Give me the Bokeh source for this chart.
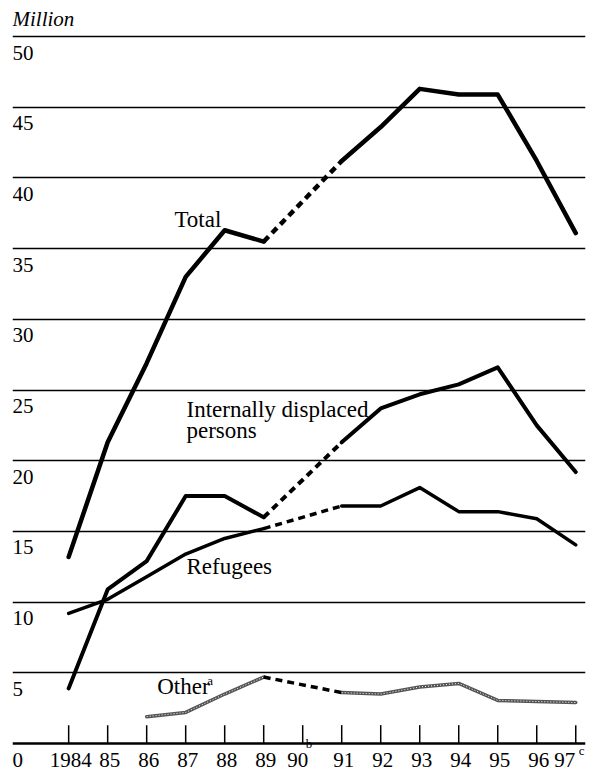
import math
from bokeh.plotting import figure
from bokeh.models import Range1d, Grid, FixedTicker, Span
from bokeh.core.properties import value
from bokeh.embed import file_html
from bokeh.resources import INLINE

# ---- data (million persons) ----
years = [1984, 1985, 1986, 1987, 1988, 1989, 1990, 1991, 1992, 1993, 1994, 1995, 1996, 1997]
total = [13.2, 21.3, 26.9, 33.0, 36.3, 35.5, None, 41.2, 43.6, 46.3, 45.9, 45.9, 41.2, 36.1]
idp = [3.9, 10.9, 12.9, 17.5, 17.5, 16.0, None, 21.3, 23.7, 24.7, 25.4, 26.6, 22.5, 19.2]
refugees = [9.2, 10.2, 11.8, 13.4, 14.5, 15.2, None, 16.8, 16.8, 18.1, 16.4, 16.4, 15.9, 14.05]
other = [None, None, 1.9, 2.2, 3.5, 4.7, None, 3.6, 3.5, 4.0, 4.25, 3.05, 2.97, 2.9]

y_ticks = [0, 5, 10, 15, 20, 25, 30, 35, 40, 45, 50]
x_tick_labels = ["1984", "85", "86", "87", "88", "89", "90", "91", "92", "93", "94", "95", "96", "97"]
x_label_notes = {"90": "b", "97": "c"}

FONT = value("Liberation Serif")
LIFT = -8  # text baseline correction (px)

p = figure(width=600, height=772, output_backend="svg", toolbar_location=None,
           x_axis_location=None, y_axis_location=None,
           x_range=Range1d(1982.56, 1997.25), y_range=Range1d(-2.05, 52.55),
           min_border_left=12, min_border_right=15, min_border_top=0, min_border_bottom=0)
p.outline_line_color = None
p.background_fill_color = "white"
p.border_fill_color = "white"
for g in list(p.grid):
    g.visible = False

# horizontal rules
p.add_layout(Grid(dimension=1, ticker=FixedTicker(ticks=y_ticks[1:]),
                  grid_line_color="black", grid_line_width=1.3))
p.add_layout(Span(location=0, dimension="width", line_color="black", line_width=2.5))

# x ticks (inward, upward from baseline)
tick_len = 1.3
p.segment(x0=years, y0=[0] * len(years), x1=years, y1=[tick_len] * len(years),
          line_color="black", line_width=1.5)


def nan(v):
    return float("nan") if v is None else v


def draw_series(vals, width, color="black", patterned=False):
    ys = [nan(v) for v in vals]
    p.line(years, ys, line_color=color, line_width=width, line_join="round", line_cap="round")
    if patterned:
        p.line(years, ys, line_color="white", line_width=1.0, line_dash="1 2")
    # dashed bridge across gaps
    for i, v in enumerate(vals):
        if v is None and 0 < i < len(vals) - 1 and vals[i - 1] is not None and vals[i + 1] is not None:
            p.line([years[i - 1], years[i + 1]], [vals[i - 1], vals[i + 1]],
                   line_color="black", line_width=width, line_dash="7 5")


draw_series(total, 4.5)
draw_series(idp, 4.0)
draw_series(refugees, 3.5)
draw_series(other, 3.5, color="#555555", patterned=True)

# y labels
x0 = p.x_range.start
p.text(x=[x0] * len(y_ticks), y=y_ticks, text=[str(v) for v in y_ticks],
       text_font=FONT, text_font_size="21px", text_align="left",
       text_baseline="alphabetic", y_offset=24 + LIFT, text_color="black")
p.text(x=[x0], y=[y_ticks[-1]], text=["Million"], text_font=FONT, text_font_style="italic",
       text_font_size="21px", text_align="left", text_baseline="alphabetic", y_offset=-10 + LIFT,
       text_color="black")

# x labels
x_off = [-5 if t in ("90",) else (-11 if t == "97" else 2) for t in x_tick_labels]
p.text(x=years, y=[0] * len(years), text=x_tick_labels, text_font=FONT, text_font_size="21px",
       text_align="center", text_baseline="alphabetic", y_offset=24 + LIFT, x_offset=x_off,
       text_color="black")
note_x = [years[x_tick_labels.index(k)] for k in x_label_notes]
p.text(x=note_x, y=[0] * len(note_x), text=list(x_label_notes.values()), text_font=FONT,
       text_font_size="13px", text_align="left", text_baseline="alphabetic",
       y_offset=[8 + LIFT, 15 + LIFT], x_offset=3, text_color="black")

# series labels
SL = "23px"
p.text(x=[1986.71], y=[36.5], text=["Total"], text_font=FONT, text_font_size=SL,
       text_align="left", text_baseline="alphabetic", y_offset=LIFT, text_color="black")
p.text(x=[1987.02, 1987.02], y=[23.05, 21.55], text=["Internally displaced", "persons"],
       text_font=FONT, text_font_size=SL, text_align="left", text_baseline="alphabetic",
       y_offset=LIFT, text_color="black")
p.text(x=[1987.02], y=[11.95], text=["Refugees"], text_font=FONT, text_font_size=SL,
       text_align="left", text_baseline="alphabetic", y_offset=LIFT, text_color="black")
p.text(x=[1986.27], y=[3.47], text=["Other"], text_font=FONT, text_font_size=SL,
       text_align="left", text_baseline="alphabetic", y_offset=LIFT, text_color="black")
p.text(x=[1987.55], y=[3.9], text=["a"], text_font=FONT, text_font_size="13px",
       text_align="left", text_baseline="alphabetic", y_offset=LIFT, text_color="black")

open("out.html", "w").write(file_html(p, INLINE))
